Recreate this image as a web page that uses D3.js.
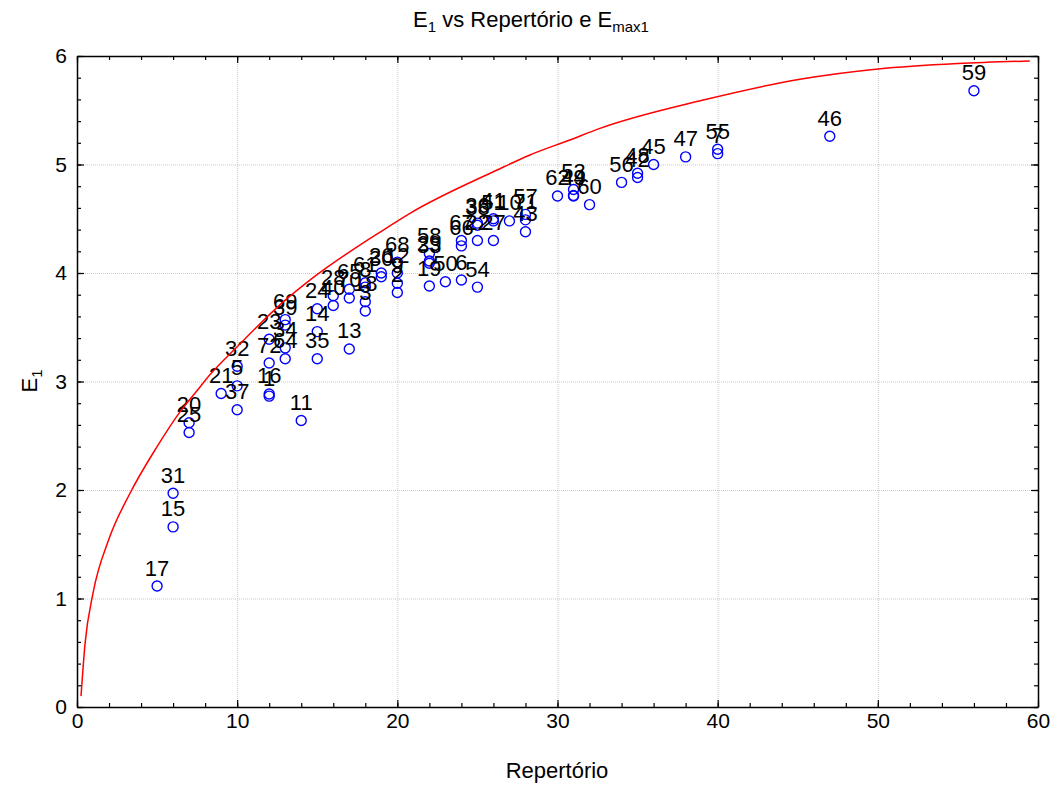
<!DOCTYPE html>
<html>
<head>
<meta charset="utf-8">
<script src="https://cdn.jsdelivr.net/npm/d3@7"></script>
<style>
  html, body { margin: 0; padding: 0; background: #fff; }
  svg { display: block; font-family: "Liberation Sans", Arial, sans-serif; }
</style>
</head>
<body>
<svg id="chart" width="1057" height="785"></svg>
<script>
// Repertório (x), E1 (y) and case number of each observation
const repertorio = [5, 6, 6, 7, 7, 9, 10, 10, 10, 12, 12, 12, 12, 13, 13, 13, 13, 14, 15, 15, 15,
  16, 16, 17, 17, 17, 18, 18, 18, 18, 19, 19, 20, 20, 20, 20, 22, 22, 22, 22, 23, 24, 24, 24,
  25, 25, 25, 25, 26, 26, 26, 27, 28, 28, 28, 30, 31, 31, 31, 32, 34, 35, 35, 36, 38, 40, 40, 47, 56];
const e1 = [1.115, 1.66, 1.97, 2.53, 2.62, 2.89, 2.74, 2.96, 3.14, 2.865, 2.885, 3.17, 3.39, 3.21, 3.31, 3.52, 3.57, 2.64, 3.21, 3.46, 3.67,
  3.70, 3.79, 3.30, 3.77, 3.85, 3.65, 3.735, 3.87, 3.91, 3.965, 4.00, 3.82, 3.905, 4.00, 4.10, 3.88, 4.09, 4.11, 4.18, 3.92, 3.935, 4.25, 4.30,
  3.87, 4.30, 4.44, 4.46, 4.30, 4.48, 4.50, 4.48, 4.38, 4.49, 4.54, 4.71, 4.71, 4.715, 4.77, 4.63, 4.835, 4.88, 4.92, 5.00, 5.07, 5.10, 5.14, 5.26, 5.68];
const caseLabels = ["17", "15", "31", "25", "20", "21", "37", "5", "32", "1", "16", "72", "23", "64", "34", "39", "69", "11", "35", "14", "24",
  "40", "28", "13", "70", "65", "3", "18", "8", "61", "30", "26", "2", "9", "12", "68", "19", "33", "29", "58", "50", "6", "66", "67",
  "54", "22", "38", "36", "27", "51", "41", "10", "43", "71", "57", "62", "44", "49", "53", "60", "56", "42", "48", "45", "47", "7", "55", "46", "59"];

// E_max1 curve, sampled along its trace
const curveX = [0.25, 0.5, 1, 2, 3.31, 5, 6.43, 7.68, 8, 10, 13, 14.54, 19.12, 20.79, 26.23, 28.28, 30.77, 32.65, 39.1, 45.13, 50.02, 55, 59.49];
const curveY = [0.10, 0.58, 1.05, 1.55, 1.97, 2.40, 2.72, 2.95, 3.01, 3.32, 3.75, 3.935, 4.396, 4.55, 4.949, 5.088, 5.226, 5.333, 5.594, 5.785, 5.88, 5.93, 5.954];

// Axis ticks
const xMajor = [0, 10, 20, 30, 40, 50, 60];
const yMajor = [0, 1, 2, 3, 4, 5, 6];
const xMinor = d3.range(0, 61, 2);
const yMinor = d3.range(0, 6.01, 0.2);

const plotL = 77, plotR = 1038, plotT = 56, plotB = 707;
const svg = d3.select("#chart");
const x = d3.scaleLinear().domain([0, 60]).range([plotL, plotR]);
const y = d3.scaleLinear().domain([0, 6]).range([plotB, plotT]);

// grid
const grid = svg.append("g").attr("stroke", "#c8c8c8").attr("stroke-width", 1).attr("stroke-dasharray", "1,1");
grid.selectAll(".gx").data(xMajor.slice(1, -1)).join("line")
  .attr("x1", d => x(d) + 0.5).attr("x2", d => x(d) + 0.5).attr("y1", plotT).attr("y2", plotB);
grid.selectAll(".gy").data(yMajor.slice(1, -1)).join("line")
  .attr("y1", d => y(d) + 0.5).attr("y2", d => y(d) + 0.5).attr("x1", plotL).attr("x2", plotR);

// axes: inward ticks on all four sides
function styleAxis(g) {
  g.selectAll("path.domain").attr("stroke", "#000").attr("stroke-width", 1.5);
  g.selectAll(".tick line").attr("stroke", "#000").attr("stroke-width", 1.2);
  g.selectAll("text").attr("fill", "#000").attr("font-size", 21).attr("font-family", "Liberation Sans, Arial, sans-serif");
}
const ax = svg.append("g").attr("transform", `translate(0,${plotB})`)
  .call(d3.axisBottom(x).tickValues(xMajor).tickFormat(d3.format("d")).tickSize(-7).tickPadding(6).tickSizeOuter(0));
styleAxis(ax);
ax.selectAll("text").attr("dy", "0.71em");
const axm = svg.append("g").attr("transform", `translate(0,${plotB})`)
  .call(d3.axisBottom(x).tickValues(xMinor).tickFormat("").tickSize(-4).tickSizeOuter(0));
styleAxis(axm); axm.select("path.domain").remove();

const axt = svg.append("g").attr("transform", `translate(0,${plotT})`)
  .call(d3.axisTop(x).tickValues(xMajor).tickFormat("").tickSize(-7).tickSizeOuter(0));
styleAxis(axt);
const axtm = svg.append("g").attr("transform", `translate(0,${plotT})`)
  .call(d3.axisTop(x).tickValues(xMinor).tickFormat("").tickSize(-4).tickSizeOuter(0));
styleAxis(axtm); axtm.select("path.domain").remove();

const ay = svg.append("g").attr("transform", `translate(${plotL},0)`)
  .call(d3.axisLeft(y).tickValues(yMajor).tickFormat(d3.format("d")).tickSize(-7).tickPadding(10).tickSizeOuter(0));
styleAxis(ay);
const aym = svg.append("g").attr("transform", `translate(${plotL},0)`)
  .call(d3.axisLeft(y).tickValues(yMinor).tickFormat("").tickSize(-4).tickSizeOuter(0));
styleAxis(aym); aym.select("path.domain").remove();

const ar = svg.append("g").attr("transform", `translate(${plotR},0)`)
  .call(d3.axisRight(y).tickValues(yMajor).tickFormat("").tickSize(-7).tickSizeOuter(0));
styleAxis(ar);
const arm = svg.append("g").attr("transform", `translate(${plotR},0)`)
  .call(d3.axisRight(y).tickValues(yMinor).tickFormat("").tickSize(-4).tickSizeOuter(0));
styleAxis(arm); arm.select("path.domain").remove();

// observations
const pts = repertorio.map((r, i) => ({ r, e: e1[i], label: caseLabels[i] }));
svg.append("g").selectAll("circle").data(pts).join("circle")
  .attr("cx", d => x(d.r)).attr("cy", d => y(d.e)).attr("r", 5)
  .attr("fill", "none").attr("stroke", "#0000ff").attr("stroke-width", 1.4);
svg.append("g").selectAll("text").data(pts).join("text")
  .attr("x", d => x(d.r)).attr("y", d => y(d.e) - 10.5)
  .attr("text-anchor", "middle").attr("font-size", 22).attr("fill", "#000")
  .text(d => d.label);

// E_max1 curve
const curvePts = curveX.map((c, i) => [c, curveY[i]]);
svg.append("path").datum(curvePts)
  .attr("fill", "none").attr("stroke", "#ff0000").attr("stroke-width", 1.5)
  .attr("d", d3.line().x(d => x(d[0])).y(d => y(d[1])).curve(d3.curveMonotoneX));

// titles
const title = svg.append("text").attr("x", 531).attr("y", 27).attr("text-anchor", "middle").attr("font-size", 22);
title.append("tspan").text("E");
title.append("tspan").attr("font-size", 15).attr("dy", 5).text("1");
title.append("tspan").attr("dy", -5).text(" vs Repertório e E");
title.append("tspan").attr("font-size", 15).attr("dy", 5).text("max1");

svg.append("text").attr("x", 557).attr("y", 778).attr("text-anchor", "middle").attr("font-size", 22).text("Repertório");

const yt = svg.append("text").attr("transform", "translate(37,381) rotate(-90)").attr("text-anchor", "middle").attr("font-size", 22);
yt.append("tspan").text("E");
yt.append("tspan").attr("font-size", 15).attr("dy", 5).text("1");
</script>
</body>
</html>
